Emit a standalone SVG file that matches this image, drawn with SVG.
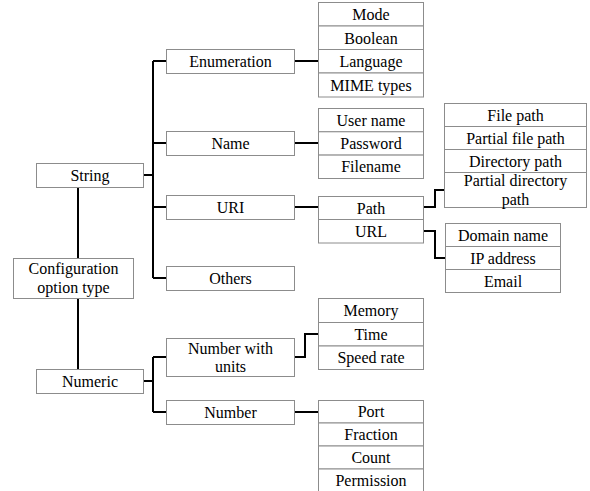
<svg xmlns="http://www.w3.org/2000/svg" width="590" height="491" viewBox="0 0 590 491">
<style>
.b{fill:#fff;stroke:#8c8c8c;stroke-width:1}
text{font-family:'Liberation Serif','Times New Roman',serif;font-size:16px;fill:#000;text-anchor:middle}
.c{fill:none;stroke:#000;stroke-width:2}
</style>
<rect width="590" height="491" fill="#fff"/>
<g id="connectors">
<path class="c" d="M78,187V258M78,298V369"/>
<path class="c" d="M143,175H153M153,61V278M153,61H166M153,143H166M153,207H166M153,278H166"/>
<path class="c" d="M143,381H153M153,357V412M153,357H166M153,412H166"/>
<path class="c" d="M294,61H318M294,143H318M294,207H318"/>
<path class="c" d="M423,207H435V190H444M423,231H435V258H445"/>
<path class="c" d="M294,357H305V334H318M294,412H318"/>
</g>
<g id="root"><rect class="b" x="13.5" y="258.5" width="120" height="40"/><text x="73.5" y="274">Configuration</text><text x="73.5" y="293">option type</text></g>
<g id="string"><rect class="b" x="36.5" y="163.5" width="107" height="24"/><text x="90" y="181">String</text></g>
<g id="numeric"><rect class="b" x="36.5" y="369.5" width="107" height="24"/><text x="90" y="387">Numeric</text></g>
<g id="enumeration"><rect class="b" x="166.5" y="49.5" width="128" height="24"/><text x="230.5" y="67">Enumeration</text></g>
<g id="name"><rect class="b" x="166.5" y="131.5" width="128" height="24"/><text x="230.5" y="149">Name</text></g>
<g id="uri"><rect class="b" x="166.5" y="195.5" width="128" height="24"/><text x="230.5" y="213">URI</text></g>
<g id="others"><rect class="b" x="166.5" y="266.5" width="128" height="24"/><text x="230.5" y="284">Others</text></g>
<g id="numunits"><rect class="b" x="166.5" y="338.5" width="128" height="38"/><text x="230.5" y="354">Number with</text><text x="230.5" y="372">units</text></g>
<g id="number"><rect class="b" x="166.5" y="400.5" width="128" height="24"/><text x="230.5" y="418">Number</text></g>
<g id="enum-values">
<rect class="b" x="318.5" y="2.5" width="105" height="23.5"/><text x="371" y="20">Mode</text>
<rect class="b" x="318.5" y="26" width="105" height="23.5"/><text x="371" y="43.5">Boolean</text>
<rect class="b" x="318.5" y="49.5" width="105" height="23.5"/><text x="371" y="67">Language</text>
<rect class="b" x="318.5" y="73" width="105" height="24"/><text x="371" y="91">MIME types</text>
</g>
<g id="name-values">
<rect class="b" x="318.5" y="108.5" width="105" height="23.3"/><text x="371" y="125.5">User name</text>
<rect class="b" x="318.5" y="131.8" width="105" height="23.3"/><text x="371" y="149">Password</text>
<rect class="b" x="318.5" y="155.1" width="105" height="23.4"/><text x="371" y="172">Filename</text>
</g>
<g id="uri-values">
<rect class="b" x="318.5" y="196.5" width="105" height="23"/><text x="371" y="213.5">Path</text>
<rect class="b" x="318.5" y="219.5" width="105" height="23.5"/><text x="371" y="236.5">URL</text>
</g>
<g id="path-values">
<rect class="b" x="444.5" y="103.5" width="142" height="23"/><text x="515.5" y="120.5">File path</text>
<rect class="b" x="444.5" y="126.5" width="142" height="23"/><text x="515.5" y="143.5">Partial file path</text>
<rect class="b" x="444.5" y="149.5" width="142" height="23"/><text x="515.5" y="166.5">Directory path</text>
<rect class="b" x="444.5" y="172.5" width="142" height="35"/><text x="515.5" y="186">Partial directory</text><text x="515.5" y="205">path</text>
</g>
<g id="url-values">
<rect class="b" x="445.5" y="223.5" width="115" height="23"/><text x="503" y="240.5">Domain name</text>
<rect class="b" x="445.5" y="246.5" width="115" height="23"/><text x="503" y="263.5">IP address</text>
<rect class="b" x="445.5" y="269.5" width="115" height="23"/><text x="503" y="286.5">Email</text>
</g>
<g id="unit-values">
<rect class="b" x="318.5" y="298.5" width="105" height="24"/><text x="371" y="316">Memory</text>
<rect class="b" x="318.5" y="322.5" width="105" height="23.5"/><text x="371" y="339.5">Time</text>
<rect class="b" x="318.5" y="346" width="105" height="23.5"/><text x="371" y="363">Speed rate</text>
</g>
<g id="number-values">
<rect class="b" x="318.5" y="400.5" width="105" height="22.5"/><text x="371" y="417">Port</text>
<rect class="b" x="318.5" y="423" width="105" height="23"/><text x="371" y="440">Fraction</text>
<rect class="b" x="318.5" y="446" width="105" height="23"/><text x="371" y="463">Count</text>
<rect class="b" x="318.5" y="469" width="105" height="23"/><text x="371" y="486">Permission</text>
</g>
</svg>
